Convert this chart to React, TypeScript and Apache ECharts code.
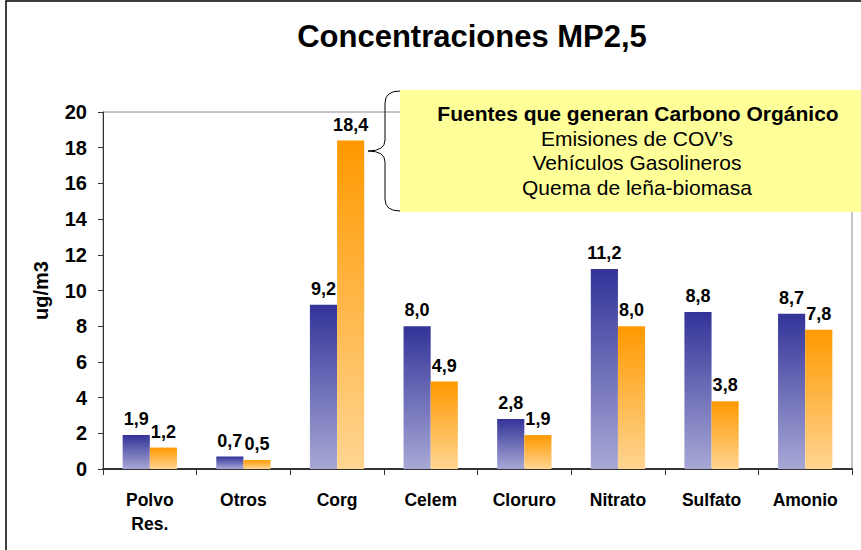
import React, { useEffect, useRef } from "react";
import * as echarts from "echarts";

const categories = ["Polvo\nRes.", "Otros", "Corg", "Celem", "Cloruro", "Nitrato", "Sulfato", "Amonio"];
const seriesA = [1.9, 0.7, 9.2, 8.0, 2.8, 11.2, 8.8, 8.7];
const seriesB = [1.2, 0.5, 18.4, 4.9, 1.9, 8.0, 3.8, 7.8];
const yTicks = { min: 0, max: 20, interval: 2 };
const titleText = "Concentraciones MP2,5";
const yName = "ug/m3";
const noteTitle = "Fuentes que generan Carbono Orgánico";
const noteLines = ["Emisiones de COV’s", "Vehículos Gasolineros", "Quema de leña-biomasa"];

const FONT = "Arial, 'Liberation Sans', sans-serif";

export default function App() {
  const ref = useRef<HTMLDivElement>(null);
  useEffect(() => {
    if (!ref.current) return;
    echarts.graphic.registerShape(
      "brace",
      echarts.graphic.extendPath(
        "M400,91 Q385,91 385,103 L385,140 Q385,151 368,151 Q385,151 385,162 L385,199 Q385,211 400,211",
        {}
      ) as any
    );
    const chart = echarts.init(ref.current, null, { renderer: "svg" });
    const fmt = (p: any) => Number(p.value).toFixed(1).replace(".", ",");
    const labelStyle = {
      show: true,
      position: "top" as const,
      distance: 7,
      formatter: fmt,
      fontFamily: FONT,
      fontWeight: "bold" as const,
      fontSize: 18,
      color: "#000",
    };
    chart.setOption({
      animation: false,
      backgroundColor: "#fff",
      title: {
        text: titleText,
        left: 467,
        textAlign: "center",
        top: 16,
        textStyle: { fontFamily: FONT, fontWeight: "bold", fontSize: 31, color: "#000" },
      },
      grid: {
        left: 103,
        right: 9,
        top: 112,
        bottom: 81,
        show: true,
        borderColor: "#8c8c8c",
        borderWidth: 1,
        backgroundColor: "transparent",
      },
      xAxis: {
        type: "category",
        data: categories,
        axisLine: { lineStyle: { color: "#333", width: 2 } },
        axisTick: { show: true, interval: 0, length: 6, lineStyle: { color: "#333" } },
        axisLabel: {
          interval: 0,
          margin: 19,
          fontFamily: FONT,
          fontWeight: "bold",
          fontSize: 17.5,
          color: "#000",
          lineHeight: 24,
        },
      },
      yAxis: {
        type: "value",
        min: yTicks.min,
        max: yTicks.max,
        interval: yTicks.interval,
        name: yName,
        nameLocation: "middle",
        nameGap: 52,
        nameTextStyle: { fontFamily: FONT, fontWeight: "bold", fontSize: 20, color: "#000" },
        axisLine: { show: true, lineStyle: { color: "#333", width: 1 } },
        axisTick: { show: true, length: 5, lineStyle: { color: "#333" } },
        splitLine: { show: false },
        axisLabel: {
          margin: 16,
          fontFamily: FONT,
          fontWeight: "bold",
          fontSize: 20,
          color: "#000",
        },
      },
      series: [
        {
          type: "bar",
          data: seriesA,
          barGap: "0%",
          barCategoryGap: "42%",
          itemStyle: {
            color: new echarts.graphic.LinearGradient(0, 0, 0, 1, [
              { offset: 0, color: "#333399" },
              { offset: 1, color: "#a8a8d6" },
            ]),
          },
          label: labelStyle,
        },
        {
          type: "bar",
          data: seriesB,
          itemStyle: {
            color: new echarts.graphic.LinearGradient(0, 0, 0, 1, [
              { offset: 0, color: "#ff9900" },
              { offset: 1, color: "#ffd592" },
            ]),
          },
          label: labelStyle,
        },
      ],
      graphic: [
        {
          type: "rect",
          shape: { x: 6, y: 1, width: 900, height: 600 },
          style: { fill: "none", stroke: "#000", lineWidth: 1.5 },
          silent: true,
          z: 100,
        },
        {
          type: "rect",
          shape: { x: 400, y: 90, width: 470, height: 122 },
          style: { fill: "#ffff99", stroke: "none" },
          z: 100,
        },
        {
          type: "brace",
          x: 0,
          y: 0,
          style: { fill: "none", stroke: "#000", lineWidth: 1 },
          z: 100,
        },
        {
          type: "text",
          x: 638,
          y: 113,
          style: {
            text: noteTitle,
            fontFamily: FONT,
            fontWeight: "bold",
            fontSize: 21,
            fill: "#000",
            align: "center",
            verticalAlign: "middle",
          },
          z: 101,
        },
        ...noteLines.map((t, i) => ({
          type: "text",
          x: 637,
          y: 138 + i * 24.5,
          style: {
            text: t,
            fontFamily: FONT,
            fontSize: 21,
            fill: "#000",
            align: "center",
            verticalAlign: "middle",
          },
          z: 101,
        })),
      ],
    });
    return () => chart.dispose();
  }, []);
  return (
    <div
      ref={ref}
      style={{ position: "fixed", left: 0, top: 0, width: 861, height: 550, background: "#fff" }}
    />
  );
}
